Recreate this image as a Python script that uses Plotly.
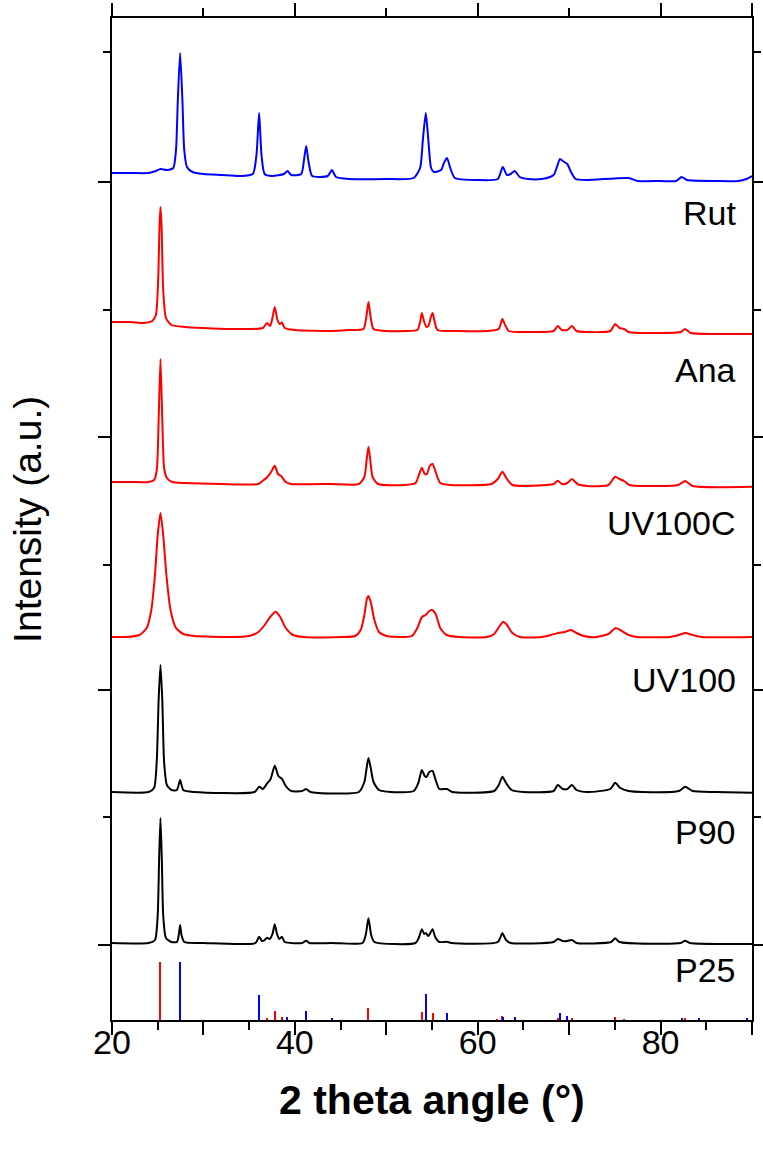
import plotly.graph_objects as go

# ---------------- data ----------------
# y values are intensity in arbitrary units (stacked, offsets included)
rut_x = [20.0, 22.0, 24.0, 24.8, 25.3, 26.0, 26.7, 27.0, 27.2, 27.45, 27.7, 27.9, 28.2, 28.8, 30, 32, 34,
         35.4, 35.8, 36.09, 36.35, 36.7, 37.5, 38.8, 39.2, 39.6, 40.7, 41.0, 41.24, 41.5, 41.9, 43.6, 44.05,
         44.5, 46, 50, 53.0, 53.7, 54.0, 54.32, 54.6, 54.9, 55.2, 56.0, 56.3, 56.64, 57.0, 57.5, 60, 62.2,
         62.74, 63.2, 63.6, 64.04, 64.6, 65.5, 67, 68.3, 69.0, 69.3, 69.8, 70.2, 70.7, 72, 76.5, 77.5, 80,
         81.7, 82.3, 82.9, 86, 88.5, 89.4, 90]
rut_y = [847, 847, 847, 849, 851, 850, 852, 870, 920, 967, 920, 870, 853, 848, 846, 845, 844,
         846, 865, 907, 865, 846, 844, 846, 849, 845, 846, 860, 874, 858, 844, 844, 850,
         843, 841, 841, 842, 852, 880, 907, 880, 852, 848, 850, 857, 862, 852, 842, 840, 841,
         853, 845, 846, 849, 843, 841, 841, 845, 861, 859, 856, 848, 841, 840, 842, 839, 839,
         839, 843, 840, 839, 839, 841, 844]

ana_x = [20, 22, 23.5, 24.4, 24.8, 25.05, 25.2, 25.3, 25.42, 25.6, 25.9, 26.5, 28, 30, 33, 35, 36.5, 36.95,
         37.3, 37.55, 37.8, 38.1, 38.35, 38.58, 38.9, 40, 44, 46, 47.5, 47.8, 48.05, 48.3, 48.6, 50, 52,
         53.4, 53.7, 53.89, 54.15, 54.4, 54.6, 54.85, 55.06, 55.3, 55.6, 58, 61, 62.3, 62.69, 63.0, 63.4,
         66, 68.3, 68.76, 69.2, 69.8, 70.31, 70.8, 72, 74.5, 75.03, 75.5, 76.0, 76.5, 80, 82.2, 82.66,
         83.3, 86, 90]
ana_y = [698, 698, 697, 699, 705, 740, 795, 813, 795, 730, 702, 695, 693, 692, 691, 691, 692, 697,
         694, 702, 713, 700, 696, 697.5, 692, 690, 689, 690, 691, 702, 718, 702, 691, 689, 689,
         690, 698, 707, 698, 693, 694, 702, 707, 698, 690, 689, 689, 691, 701, 695, 689,
         688, 689, 694, 690, 690, 694, 689, 688, 689, 696, 692, 691, 688, 687, 688, 691,
         687, 686, 686]

uvc_x = [20, 22, 24, 24.6, 24.9, 25.1, 25.3, 25.5, 25.7, 26.0, 26.6, 28, 32, 36, 36.6, 37.0, 37.4, 37.8,
         38.15, 38.5, 39.0, 39.6, 44, 47.0, 47.6, 47.85, 48.05, 48.25, 48.5, 49.1, 52, 53.2, 53.6, 53.89,
         54.2, 54.45, 54.75, 55.06, 55.4, 55.9, 57, 61.5, 62.2, 62.7, 63.2, 63.8, 67.5, 68.3, 68.76, 69.2,
         69.8, 70.3, 70.9, 72, 74.3, 75.03, 75.5, 76.0, 76.6, 81.9, 82.7, 83.5, 90]
uvc_y = [538, 538, 538, 540, 550, 600, 661, 600, 552, 542, 538, 537, 536, 536, 540, 543, 548, 554.3,
         546, 544, 538, 536, 536, 536, 543, 560, 573.3, 560, 543, 536, 535, 537, 546, 552.3,
         546, 546, 554, 556, 548, 537, 535, 536, 541, 548.3, 541, 535, 535, 536, 539.3, 536,
         537, 541, 536, 534, 535, 543.3, 541, 539, 535, 535, 539, 534, 533.3]

uv_x = [20, 21.5, 23.0, 23.8, 24.3, 24.7, 25.0, 25.3, 25.6, 25.95, 26.4, 27.0, 27.8, 29, 33, 35, 36.0,
        36.7, 37.3, 37.9, 38.4, 39.0, 39.8, 41, 45, 46.6, 47.2, 47.6, 47.9, 48.05, 48.3, 48.7, 49.2, 50,
        52, 52.8, 53.4, 53.9, 54.3, 54.7, 55.0, 55.4, 55.9, 56.6, 58, 61, 61.8, 62.4, 62.8, 63.2, 63.8,
        64.6, 67, 68.0, 68.8, 69.5, 70.2, 70.8, 71.6, 73, 74.3, 75.1, 75.6, 76.5, 77.5, 81, 82.0, 82.7,
        83.5, 84.5, 90]
uv_y = [383, 383, 385, 392, 410, 445, 485, 507, 485, 445, 410, 392, 386, 384, 383, 384, 388,
        395, 403, 408.3, 403, 392, 385, 383, 383, 384, 390, 405, 422, 424, 418, 400, 388, 384,
        383, 384, 392, 403, 405, 409, 410, 406, 392, 385, 383, 383, 386, 394, 398.3, 395, 387,
        383, 383, 385, 387, 388, 390, 387, 384, 383, 386, 392, 390, 385, 383, 383, 385, 387,
        385, 383, 383]

p90_x = [20, 24, 24.6, 24.9, 25.1, 25.3, 25.5, 25.7, 26.0, 26.5, 27.1, 27.45, 27.8, 29, 35.6, 36.1, 36.5,
         37.0, 37.35, 37.8, 38.2, 38.6, 39.0, 39.6, 40.8, 41.24, 41.7, 47, 47.6, 47.85, 48.05, 48.3, 48.6,
         49.2, 50.5, 53.0, 53.5, 53.89, 54.2, 54.4, 54.7, 55.06, 55.4, 55.8, 56.64, 57.2, 61.8, 62.3, 62.7,
         63.1, 63.7, 65, 68.3, 68.76, 69.3, 69.8, 70.31, 70.8, 72, 74.5, 75.03, 75.6, 76.5, 78, 82.0, 82.7,
         83.5, 86, 90]
p90_y = [228, 228, 232, 260, 320, 355, 320, 258, 235, 230, 230, 240, 230, 228, 228, 233.3, 231,
         237, 241, 254.3, 244, 241, 234, 229, 229, 231, 228, 228, 238, 252, 262, 252, 238,
         230, 228, 229, 237, 250, 244, 243, 248, 249, 240, 231, 231, 228, 229, 235, 243.3,
         237, 230, 228, 229, 235, 231, 231, 235, 230, 228, 231, 237.3, 232, 229, 228, 229, 233.3,
         229, 228, 227.3]

p25_x = [20, 24, 24.7, 25.0, 25.15, 25.3, 25.45, 25.6, 25.9, 26.5, 27.1, 27.3, 27.45, 27.6, 27.9, 30,
         35.7, 36.09, 36.4, 36.7, 36.95, 37.25, 37.55, 37.8, 38.05, 38.3, 38.58, 38.9, 40.8, 41.24, 41.6,
         44, 47.4, 47.75, 48.05, 48.35, 48.7, 53.2, 53.55, 53.89, 54.15, 54.32, 54.6, 55.06, 55.35, 55.8,
         56.64, 57.1, 62.2, 62.69, 63.1, 63.6, 68.3, 68.76, 69.3, 69.8, 70.31, 70.8, 74.6, 75.03, 75.5,
         82.2, 82.66, 83.2, 90]
p25_y = [77, 77, 80, 105, 160, 202, 160, 105, 82, 78, 78, 85, 95, 85, 78, 77,
         77, 83.3, 79, 80, 82.3, 81, 86, 95.7, 86, 81, 83.3, 78, 77, 79.3, 77,
         77, 77, 85, 101.7, 85, 78, 77, 82, 90.7, 86, 87, 84, 90.7, 83, 78,
         78.3, 77, 78, 86.7, 80, 77, 78, 81, 79, 79, 80, 77, 78, 81.7, 78,
         77, 79.3, 77, 76]

# reference stick patterns
anatase_pos = [25.28, 36.95, 37.80, 38.58, 48.05, 53.89, 55.06, 62.12, 62.69, 68.76, 70.31, 75.03, 76.02, 82.66]
anatase_int = [58, 2.5, 9, 3.5, 12, 8, 7.5, 1, 4, 2, 2.5, 3.5, 1, 1.5]
rutile_pos = [27.45, 36.09, 39.19, 41.24, 44.05, 54.32, 56.64, 62.74, 64.04, 69.0, 69.8, 82.3, 84.2, 89.5]
rutile_int = [58, 25, 3, 9.5, 2, 26, 7.5, 3, 3, 7.5, 4, 1.5, 1.5, 2]

sample_labels = ["Rut", "Ana", "UV100C", "UV100", "P90", "P25"]
label_y = [807, 650, 497, 340, 188, 50]

y_major = [75, 330, 583, 838]
y_minor = [203, 455, 710, 968]

FONT = "Liberation Sans Narrow, Arial Narrow, Liberation Sans, Arial, sans-serif"

fig = go.Figure()
curves = [(rut_x, rut_y, "blue"), (ana_x, ana_y, "red"), (uvc_x, uvc_y, "red"),
          (uv_x, uv_y, "red"), (p90_x, p90_y, "black"), (p25_x, p25_y, "black")]
for (xs, ys, c), name in zip(curves, sample_labels):
    fig.add_trace(go.Scatter(x=xs, y=ys, mode="lines", name=name,
                             line=dict(color=c, width=2, shape="spline", smoothing=0.6),
                             showlegend=False))

fig.add_trace(go.Bar(x=anatase_pos, y=anatase_int, base=0, width=0.22,
                     marker=dict(color="red", line=dict(width=0)), showlegend=False))
fig.add_trace(go.Bar(x=rutile_pos, y=rutile_int, base=0, width=0.22,
                     marker=dict(color="blue", line=dict(width=0)), showlegend=False))
# helper trace for the top axis
fig.add_trace(go.Scatter(x=[20, 90], y=[0, 0], xaxis="x2", mode="lines",
                         line=dict(width=0), hoverinfo="skip", showlegend=False))

for lab, ly in zip(sample_labels, label_y):
    fig.add_annotation(x=88.5, y=ly, xref="x", yref="y", text=lab, showarrow=False,
                       xanchor="right", yanchor="middle",
                       font=dict(family=FONT, size=34, color="black"))

fig.add_annotation(x=-0.133, y=0.5, xref="paper", yref="paper", text="Intensity (a.u.)",
                   textangle=-90, showarrow=False, xanchor="center", yanchor="middle",
                   font=dict(family=FONT, size=39, color="black"))
fig.add_annotation(x=0.5, y=-0.08, xref="paper", yref="paper", text="<b>2 theta angle (°)</b>",
                   showarrow=False, xanchor="center", yanchor="middle",
                   font=dict(family=FONT, size=41, color="black"))

fig.update_layout(
    width=763, height=1153, autosize=False,
    margin=dict(l=112, r=11, t=18, b=133, autoexpand=False),
    paper_bgcolor="white", plot_bgcolor="white",
    barmode="overlay", bargap=0,
    xaxis=dict(range=[20, 90], tickmode="array", tickvals=[20, 30, 40, 50, 60, 70, 80, 90],
               ticktext=["20", "", "40", "", "60", "", "80", ""], automargin=False,
               ticks="outside", ticklen=13, tickwidth=2, tickcolor="black",
               ticklabelstandoff=-22,
               showline=True, linewidth=2, linecolor="black", showgrid=False, zeroline=False,
               tickfont=dict(family=FONT, size=34, color="black"),
               minor=dict(tickmode="array", tickvals=[25, 35, 45, 55, 65, 75, 85],
                          ticks="outside", ticklen=8, tickwidth=2, tickcolor="black")),
    xaxis2=dict(range=[20, 90], overlaying="x", side="top", anchor="y", automargin=False,
                tickmode="array", tickvals=[20, 40, 60, 80, 90], showticklabels=False,
                ticks="outside", ticklen=13, tickwidth=2, tickcolor="black",
                showline=True, linewidth=2, linecolor="black", showgrid=False, zeroline=False,
                minor=dict(tickmode="array", tickvals=[30, 50, 70],
                           ticks="outside", ticklen=8, tickwidth=2, tickcolor="black")),
    yaxis=dict(range=[0, 1002], tickmode="array", tickvals=y_major, showticklabels=False,
               automargin=False,
               ticks="outside", ticklen=12, tickwidth=2, tickcolor="black",
               showline=True, linewidth=2, linecolor="black", mirror="ticks",
               showgrid=False, zeroline=False,
               minor=dict(tickmode="array", tickvals=y_minor,
                          ticks="outside", ticklen=7, tickwidth=2, tickcolor="black")),
)

post = ("document.documentElement.style.overflow='hidden';"
        "document.body.style.overflow='hidden';"
        "document.body.style.margin='0';")

fig.write_html("out.html", config={"displayModeBar": False}, post_script=post)
